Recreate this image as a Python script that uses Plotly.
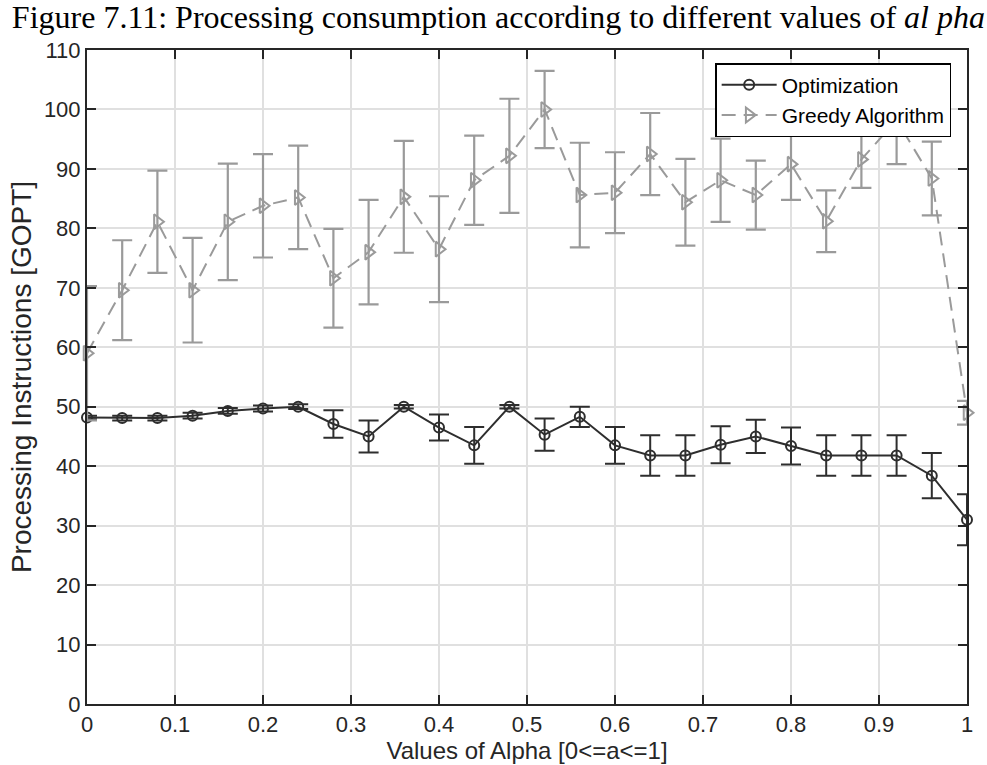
import plotly.graph_objects as go

alpha = [0.00, 0.04, 0.08, 0.12, 0.16, 0.20, 0.24, 0.28, 0.32, 0.36, 0.40, 0.44, 0.48,
         0.52, 0.56, 0.60, 0.64, 0.68, 0.72, 0.76, 0.80, 0.84, 0.88, 0.92, 0.96, 1.00]

opt_values = [48.2, 48.1, 48.1, 48.5, 49.3, 49.7, 50.0, 47.1, 45.0, 50.0, 46.5, 43.5, 50.0,
              45.3, 48.3, 43.5, 41.8, 41.8, 43.6, 45.0, 43.4, 41.8, 41.8, 41.8, 38.4, 31.0]
opt_errors = [0.3, 0.4, 0.4, 0.5, 0.5, 0.5, 0.4, 2.3, 2.7, 0.3, 2.2, 3.1, 0.3,
              2.7, 1.7, 3.1, 3.4, 3.4, 3.1, 2.8, 3.1, 3.4, 3.4, 3.4, 3.8, 4.3]

greedy_values = [59.0, 69.6, 81.1, 69.6, 81.1, 83.8, 85.2, 71.6, 76.0, 85.3, 76.5, 88.1, 92.2,
                 100.0, 85.6, 86.0, 92.5, 84.4, 88.1, 85.6, 90.8, 81.2, 91.6, 98.2, 88.4, 49.0]
greedy_errors = [11.3, 8.4, 8.6, 8.8, 9.8, 8.7, 8.7, 8.3, 8.8, 9.4, 8.9, 7.5, 9.6,
                 6.5, 8.8, 6.8, 6.9, 7.3, 7.0, 5.8, 6.0, 5.2, 4.8, 7.4, 6.2, 2.0]

x_ticks = [0, 0.1, 0.2, 0.3, 0.4, 0.5, 0.6, 0.7, 0.8, 0.9, 1]
x_tick_labels = ["0", "0.1", "0.2", "0.3", "0.4", "0.5", "0.6", "0.7", "0.8", "0.9", "1"]
y_ticks = [0, 10, 20, 30, 40, 50, 60, 70, 80, 90, 100, 110]

OPT_COLOR = "#2e2e2e"
GREEDY_COLOR = "#9a9a9a"
AXIS_COLOR = "#262626"
FONT = "Liberation Sans, Arial, Helvetica, sans-serif"

fig = go.Figure()

fig.add_trace(go.Scatter(
    x=alpha, y=opt_values, name="Optimization", mode="lines+markers",
    line=dict(color=OPT_COLOR, width=2),
    marker=dict(symbol="circle-open", size=10, color=OPT_COLOR, line=dict(width=2)),
    error_y=dict(type="data", array=opt_errors, visible=True, color=OPT_COLOR,
                 thickness=2, width=10),
    cliponaxis=False,
))

fig.add_trace(go.Scatter(
    x=alpha, y=greedy_values, name="Greedy Algorithm", mode="lines+markers",
    line=dict(color=GREEDY_COLOR, width=2, dash="14px,8px"),
    marker=dict(symbol="triangle-right-open", size=13, color=GREEDY_COLOR, line=dict(width=2)),
    error_y=dict(type="data", array=greedy_errors, visible=True, color=GREEDY_COLOR,
                 thickness=2.2, width=10),
    cliponaxis=False,
))

fig.update_layout(
    width=987, height=765,
    paper_bgcolor="white", plot_bgcolor="white",
    margin=dict(l=87, r=20, t=50, b=61, autoexpand=False),
    font=dict(family=FONT, size=22, color=AXIS_COLOR),
    title=dict(
        text="Figure 7.11: Processing consumption according to different values of <i>al pha</i>",
        x=0.505, xanchor="center", y=0.978, yanchor="middle",
        font=dict(family="Liberation Serif, Times New Roman, serif", size=32, color="black"),
    ),
    showlegend=True,
    legend=dict(
        x=0.982, xanchor="right", y=0.98, yanchor="top",
        bgcolor="white", bordercolor="black", borderwidth=1.5,
        font=dict(family=FONT, size=21, color="black"),
        tracegroupgap=0, itemwidth=55,
    ),
)

fig.update_xaxes(
    range=[0, 1], tickvals=x_ticks, ticktext=x_tick_labels,
    showgrid=True, gridcolor="#e0e0e0", gridwidth=1.5,
    showline=True, linecolor=AXIS_COLOR, linewidth=2, mirror="ticks",
    ticks="inside", ticklen=9, tickwidth=1.5, tickcolor=AXIS_COLOR,
    zeroline=False,
    tickfont=dict(size=22, color=AXIS_COLOR),
    title=dict(text="Values of Alpha [0<=a<=1]", standoff=2, font=dict(size=24, color=AXIS_COLOR)),
)

fig.update_yaxes(
    range=[0, 110], tickvals=y_ticks,
    showgrid=True, gridcolor="#e0e0e0", gridwidth=1.5,
    showline=True, linecolor=AXIS_COLOR, linewidth=2, mirror="ticks",
    ticks="inside", ticklen=9, tickwidth=1.5, tickcolor=AXIS_COLOR,
    zeroline=False,
    tickfont=dict(size=22, color=AXIS_COLOR),
    title=dict(text="Processing Instructions [GOPT]", standoff=4, font=dict(size=28, color=AXIS_COLOR)),
)

fig.write_html("out.html")
